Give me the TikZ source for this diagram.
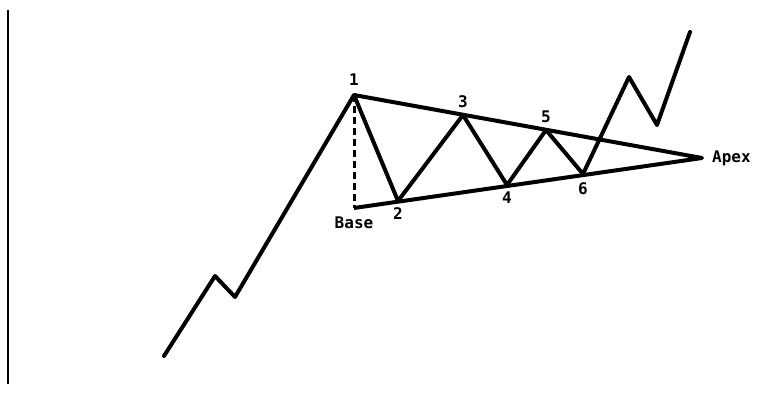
\documentclass[tikz,border=0pt]{standalone}
\usepackage{fontspec}
\newfontfamily\chartfont{DejaVu Sans Mono}
\usetikzlibrary{calc,positioning}

\begin{document}
\begin{tikzpicture}[x=1pt, y=-1pt,
  price/.style={line width=4pt, line join=round, line cap=round},
  trend/.style={line width=4pt, line join=round},
  baseline/.style={line width=3pt, dash pattern=on 7pt off 4pt},
  lbl/.style={font=\chartfont\bfseries\fontsize{16}{18}\selectfont, inner sep=1pt}]
\useasboundingbox (0,0) rectangle (763,396);
% axis
\coordinate (ax1) at (8,10);
\coordinate (ax2) at (8,384);
\draw[line width=1.3pt] (ax1) -- (ax2);
% turning points
\coordinate (s0) at (164,356);
\coordinate (s1) at (215,276);
\coordinate (s2) at (235,297);
\coordinate (p1) at (354,95);
\coordinate (p2) at (398,201);
\coordinate (p3) at (463,115);
\coordinate (p4) at (507,185);
\coordinate (p5) at (546,130);
\coordinate (p6) at (583,174);
\coordinate (e1) at (629,77);
\coordinate (e2) at (657,125);
\coordinate (e3) at (690,32);
\coordinate (apex) at (702,158);
\coordinate (base) at (354,208);
% triangle
\draw[trend] (p1) -- (apex) -- (base);
\draw[baseline] (p1) -- (base);
% price
\draw[price] (s0) -- (s1) -- (s2) -- (p1) -- (p2) -- (p3) -- (p4) -- (p5) -- (p6) -- (e1) -- (e2) -- (e3);
% labels
\node[lbl, above=8pt of p1] (l1) {1};
\node[lbl, below=5pt of p2] (l2) {2};
\node[lbl, above=6pt of p3] (l3) {3};
\node[lbl, below=6pt of p4] (l4) {4};
\node[lbl, above=6pt of p5] (l5) {5};
\node[lbl, below=7pt of p6] (l6) {6};
\node[lbl, right=9pt of apex] (lapex) {Apex};
\node[lbl, below=8pt of base] (lbase) {Base};
\end{tikzpicture}
\end{document}
